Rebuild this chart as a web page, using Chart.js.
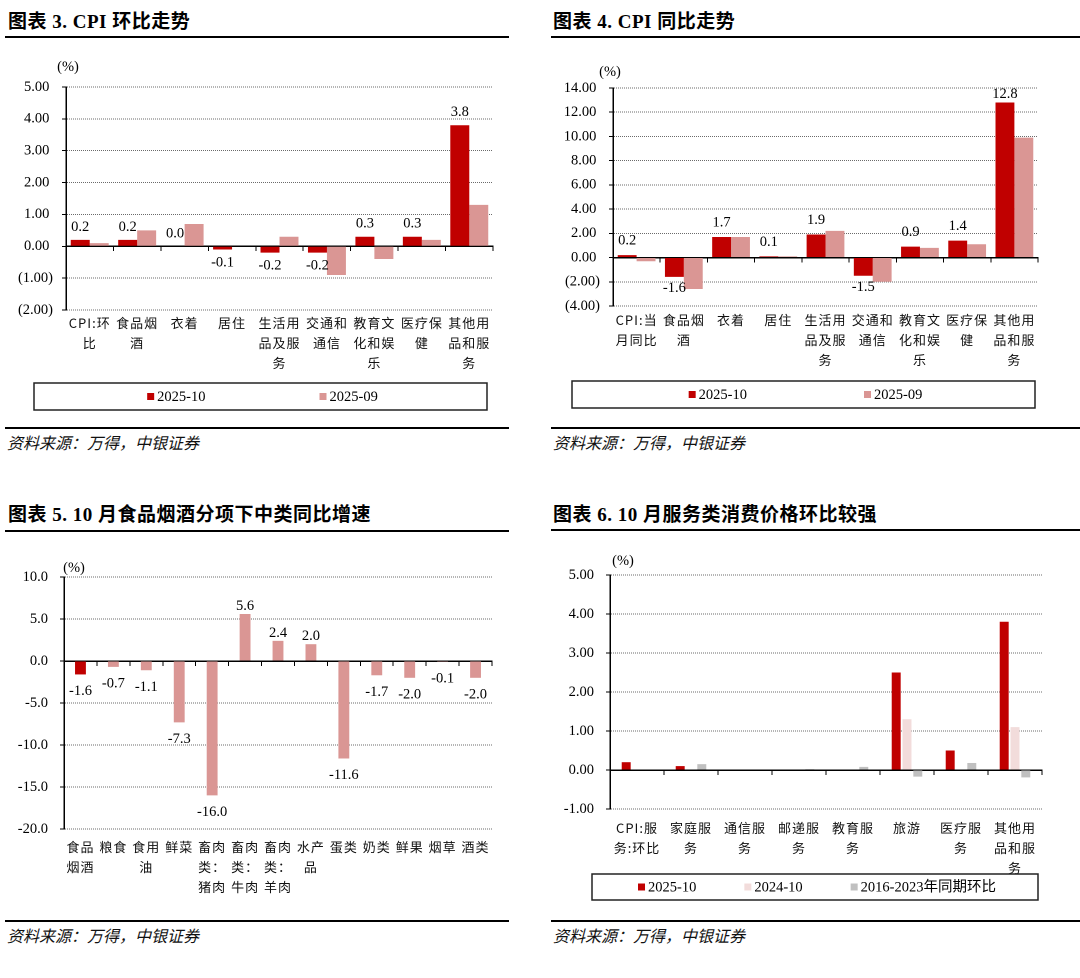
<!DOCTYPE html>
<html><head><meta charset="utf-8">
<script src="https://cdn.jsdelivr.net/npm/chart.js@4.4.1/dist/chart.umd.min.js"></script>
<style>
html,body{margin:0;padding:0;background:#fff;}
body{width:1080px;height:978px;position:relative;overflow:hidden;}
.title{position:absolute;font-weight:bold;font-size:19px;font-family:'Liberation Serif','Noto Sans CJK SC',serif;letter-spacing:0.5px;color:#000;white-space:nowrap;line-height:20px;}
.rule{position:absolute;height:2px;background:#000;}
.src{position:absolute;font-style:italic;font-size:16px;font-family:'Noto Sans CJK SC',sans-serif;color:#111;white-space:nowrap;line-height:16px;}
.cw{position:absolute;}
</style></head>
<body>
<div class="title" style="left:8px;top:12px;">图表 3. CPI 环比走势</div>
<div class="rule" style="left:5px;top:36px;width:504px;"></div>
<div class="title" style="left:553px;top:12px;">图表 4. CPI 同比走势</div>
<div class="rule" style="left:551px;top:36px;width:529px;"></div>
<div class="title" style="left:8px;top:505px;">图表 5. 10 月食品烟酒分项下中类同比增速</div>
<div class="rule" style="left:5px;top:530px;width:504px;"></div>
<div class="title" style="left:553px;top:505px;">图表 6. 10 月服务类消费价格环比较强</div>
<div class="rule" style="left:551px;top:529px;width:529px;"></div>

<div class="cw" style="left:0px;top:45px;width:540px;height:375px;"><canvas id="c3"></canvas></div>
<div class="cw" style="left:540px;top:45px;width:540px;height:375px;"><canvas id="c4"></canvas></div>
<div class="cw" style="left:0px;top:535px;width:540px;height:380px;"><canvas id="c5"></canvas></div>
<div class="cw" style="left:540px;top:535px;width:540px;height:380px;"><canvas id="c6"></canvas></div>

<div class="rule" style="left:5px;top:427px;width:504px;"></div>
<div class="src" style="left:7px;top:434px;">资料来源：万得，中银证券</div>
<div class="rule" style="left:551px;top:427px;width:529px;"></div>
<div class="src" style="left:553px;top:434px;">资料来源：万得，中银证券</div>
<div class="rule" style="left:5px;top:920px;width:504px;"></div>
<div class="src" style="left:7px;top:927px;">资料来源：万得，中银证券</div>
<div class="rule" style="left:551px;top:920px;width:529px;"></div>
<div class="src" style="left:553px;top:927px;">资料来源：万得，中银证券</div>

<script>
// ---------- DATA ----------
const momCats = ['CPI:环比','食品烟酒','衣着','居住','生活用品及服务','交通和通信','教育文化和娱乐','医疗保健','其他用品和服务'];
const momOct = [0.2, 0.2, 0.0, -0.1, -0.2, -0.2, 0.3, 0.3, 3.8];
const momSep = [0.1, 0.5, 0.7, 0.0, 0.3, -0.9, -0.4, 0.2, 1.3];
const momTicks = [-2, -1, 0, 1, 2, 3, 4, 5];

const yoyCats = ['CPI:当月同比','食品烟酒','衣着','居住','生活用品及服务','交通和通信','教育文化和娱乐','医疗保健','其他用品和服务'];
const yoyOct = [0.2, -1.6, 1.7, 0.1, 1.9, -1.5, 0.9, 1.4, 12.8];
const yoySep = [-0.3, -2.6, 1.7, 0.1, 2.2, -2.0, 0.8, 1.1, 9.9];
const yoyTicks = [-4, -2, 0, 2, 4, 6, 8, 10, 12, 14];

const foodCats = ['食品烟酒','粮食','食用油','鲜菜','畜肉类：猪肉','畜肉类：牛肉','畜肉类：羊肉','水产品','蛋类','奶类','鲜果','烟草','酒类'];
const foodTotal = [-1.6, null, null, null, null, null, null, null, null, null, null, null, null];
const foodItems = [null, -0.7, -1.1, -7.3, -16.0, 5.6, 2.4, 2.0, -11.6, -1.7, -2.0, -0.1, -2.0];
const foodTicks = [-20, -15, -10, -5, 0, 5, 10];

const svcCats = ['CPI:服务:环比','家庭服务','通信服务','邮递服务','教育服务','旅游','医疗服务','其他用品和服务'];
const svc2025 = [0.2, 0.1, 0.0, 0.0, 0.0, 2.5, 0.5, 3.8];
const svc2024 = [0.0, 0.0, 0.0, 0.0, 0.0, 1.3, 0.0, 1.1];
const svcHist = [0.0, 0.15, 0.0, 0.02, 0.08, -0.17, 0.18, -0.19];
const svcTicks = [-1, 0, 1, 2, 3, 4, 5];

const seriesNames = { oct25: '2025-10', sep25: '2025-09', oct24: '2024-10', hist: '2016-2023年同期环比' };

// ---------- STYLE ----------
const RED = '#C00000', PINK = '#DA9694', LPINK = '#F2DCDB', GRAY = '#C0C0C0';
const SERIF = "'Liberation Serif','Times New Roman','Noto Sans CJK SC',serif";
const CJK = "'Noto Sans CJK SC',sans-serif";

function wrapLabel(s, maxUnits) {
  const lines = []; let cur = ''; let u = 0;
  for (const ch of s) {
    const w = ch.charCodeAt(0) > 255 ? 2 : 1;
    if (u + w > maxUnits && cur) { lines.push(cur); cur = ''; u = 0; }
    cur += ch; u += w;
  }
  if (cur) lines.push(cur);
  return lines;
}
const fmtParen = v => v < 0 ? '(' + Math.abs(v).toFixed(2) + ')' : v.toFixed(2) + ' ';
const fmt1 = v => v.toFixed(1);
const fmt2 = v => v.toFixed(2);

function yAxis(ticks, fmt, width, pad) {
  return {
    type: 'linear', position: 'left',
    min: ticks[0], max: ticks[ticks.length - 1],
    afterBuildTicks: s => { s.ticks = ticks.map(v => ({ value: v })); },
    afterFit: s => { s.width = width; },
    grid: { color: '#6a6a6a', lineWidth: 1, drawTicks: true, tickLength: 4, tickColor: '#000', tickWidth: 1 },
    border: { display: true, color: '#000', width: 1.5, dash: [1, 1] },
    ticks: { autoSkip: false, padding: pad, color: '#000', font: { family: SERIF, size: 14.5 }, callback: v => fmt(v) }
  };
}
function xAxis(height, pad, maxUnits) {
  return {
    type: 'category', position: 'bottom', offset: true,
    afterFit: s => { s.height = height; },
    grid: { display: false, drawTicks: false },
    border: { display: false },
    ticks: {
      z: 1,
      autoSkip: false, maxRotation: 0, minRotation: 0, padding: pad, color: '#111',
      font: { family: CJK, size: 13, lineHeight: '20px' },
      callback: function (v) { return wrapLabel(this.getLabelForValue(v), maxUnits); }
    }
  };
}
const zeroAxis = {
  type: 'category', axis: 'x', position: { y: 0 }, offset: true,
  grid: { display: true, drawOnChartArea: false, drawTicks: true, tickLength: 4, tickColor: '#000', tickWidth: 1, offset: true },
  border: { display: true, color: '#000', width: 1.5 },
  ticks: { display: false }
};

function decor(cfg) {
  return {
    id: 'decor',
    afterDatasetsDraw(chart) {
      const ctx = chart.ctx, ca = chart.chartArea;
      ctx.save();
      if (cfg.labels) {
        ctx.font = '14.5px ' + SERIF; ctx.fillStyle = '#000';
        ctx.textAlign = 'center'; ctx.textBaseline = 'alphabetic';
        const capH = 9.8;
        cfg.labels.forEach(di => {
          const meta = chart.getDatasetMeta(di);
          const data = chart.data.datasets[di].data;
          meta.data.forEach((bar, i) => {
            const v = data[i];
            if (v === null || v === undefined) return;
            let y;
            if (v >= 0) { y = Math.max(bar.y - cfg.posGap, ca.top + capH); }
            else { y = bar.y + cfg.negGap + capH; }
            ctx.fillText(v.toFixed(1), bar.x, y);
          });
        });
      }
      ctx.restore();
      // category labels (drawn next, z:1) get a little letter spacing like the original
      if ('letterSpacing' in ctx) ctx.letterSpacing = '1px';
    },
    afterDraw(chart) {
      const ctx = chart.ctx, ca = chart.chartArea;
      if ('letterSpacing' in ctx) ctx.letterSpacing = '0px';
      ctx.save();
      ctx.font = '14.5px ' + SERIF; ctx.fillStyle = '#000';
      ctx.textAlign = 'center'; ctx.textBaseline = 'middle';
      ctx.fillText('(%)', ca.left + cfg.unit[0], ca.top - cfg.unit[1]);
      if (cfg.box) {
        const [bx, by, bw, bh] = cfg.box;
        ctx.strokeStyle = '#222'; ctx.lineWidth = 1.5;
        ctx.strokeRect(bx, by, bw, bh);
        ctx.font = '14.5px ' + SERIF; ctx.textAlign = 'left';
        const sq = 7, sg = 3;
        const items = chart.data.datasets.map(d => ({ label: d.label, color: d.backgroundColor, w: sq + sg + ctx.measureText(d.label).width }));
        const total = items.reduce((a, it) => a + it.w, 0) + cfg.gap * (items.length - 1);
        let x = bx + (bw - total) / 2 + cfg.shift;
        const cy = by + bh / 2;
        items.forEach(it => {
          ctx.fillStyle = it.color; ctx.fillRect(x, cy - sq / 2, sq, sq);
          ctx.fillStyle = '#000'; ctx.fillText(it.label, x + sq + sg, cy + 0.5);
          x += it.w + cfg.gap;
        });
      }
      ctx.restore();
    }
  };
}

function makeChart(id, labels, datasets, o) {
  return new Chart(document.getElementById(id), {
    type: 'bar',
    data: { labels, datasets },
    options: {
      responsive: true, maintainAspectRatio: false, animation: false,
      devicePixelRatio: 2,
      layout: { padding: { left: 0, top: o.top, right: o.right, bottom: 0 } },
      datasets: { bar: o.bar },
      scales: { x: xAxis(o.xH, o.xPad, o.units), y: yAxis(o.ticks, o.fmt, o.yW, o.yPad), x2: zeroAxis },
      plugins: { legend: { display: false }, tooltip: { enabled: false } },
      events: []
    },
    plugins: [decor(o.decor)]
  });
}

makeChart('c3', momCats, [
  { label: seriesNames.oct25, data: momOct, backgroundColor: RED },
  { label: seriesNames.sep25, data: momSep, backgroundColor: PINK }
], { top: 42, right: 47, xH: 110, xPad: 3, units: 7, ticks: momTicks, fmt: fmtParen, yW: 66, yPad: 9,
  bar: { categoryPercentage: 0.8, barPercentage: 1.0, borderWidth: 0 },
  decor: { labels: [0], posGap: 9, negGap: 7, unit: [2, 20], box: [34, 338, 453, 27], gap: 114, shift: 2 } });

makeChart('c4', yoyCats, [
  { label: seriesNames.oct25, data: yoyOct, backgroundColor: RED },
  { label: seriesNames.sep25, data: yoySep, backgroundColor: PINK }
], { top: 43, right: 42, xH: 114, xPad: 4, units: 7, ticks: yoyTicks, fmt: fmtParen, yW: 73, yPad: 9,
  bar: { categoryPercentage: 0.8, barPercentage: 1.0, borderWidth: 0 },
  decor: { labels: [0], posGap: 10.5, negGap: 5.5, unit: [-3, 16], box: [32, 336, 463, 27], gap: 117, shift: 2 } });

makeChart('c5', foodCats, [
  { label: '食品烟酒', data: foodTotal, backgroundColor: RED },
  { label: '分项', data: foodItems, backgroundColor: PINK }
], { top: 42, right: 48, xH: 86, xPad: 8, units: 4, ticks: foodTicks, fmt: fmt1, yW: 64, yPad: 12,
  bar: { categoryPercentage: 0.33, barPercentage: 1.0, grouped: false, borderWidth: 0 },
  decor: { labels: [0, 1], posGap: 4, negGap: 11, unit: [10, 9] } });

makeChart('c6', svcCats, [
  { label: seriesNames.oct25, data: svc2025, backgroundColor: RED },
  { label: seriesNames.oct24, data: svc2024, backgroundColor: LPINK },
  { label: seriesNames.hist, data: svcHist, backgroundColor: GRAY }
], { top: 40, right: 38, xH: 106, xPad: 9, units: 7, ticks: svcTicks, fmt: fmt2, yW: 70, yPad: 12,
  bar: { categoryPercentage: 0.6, barPercentage: 0.83, borderWidth: 0 },
  decor: { unit: [13, 14], box: [52, 339, 446, 26], gap: 48, shift: 2 } });
</script>
</body></html>
